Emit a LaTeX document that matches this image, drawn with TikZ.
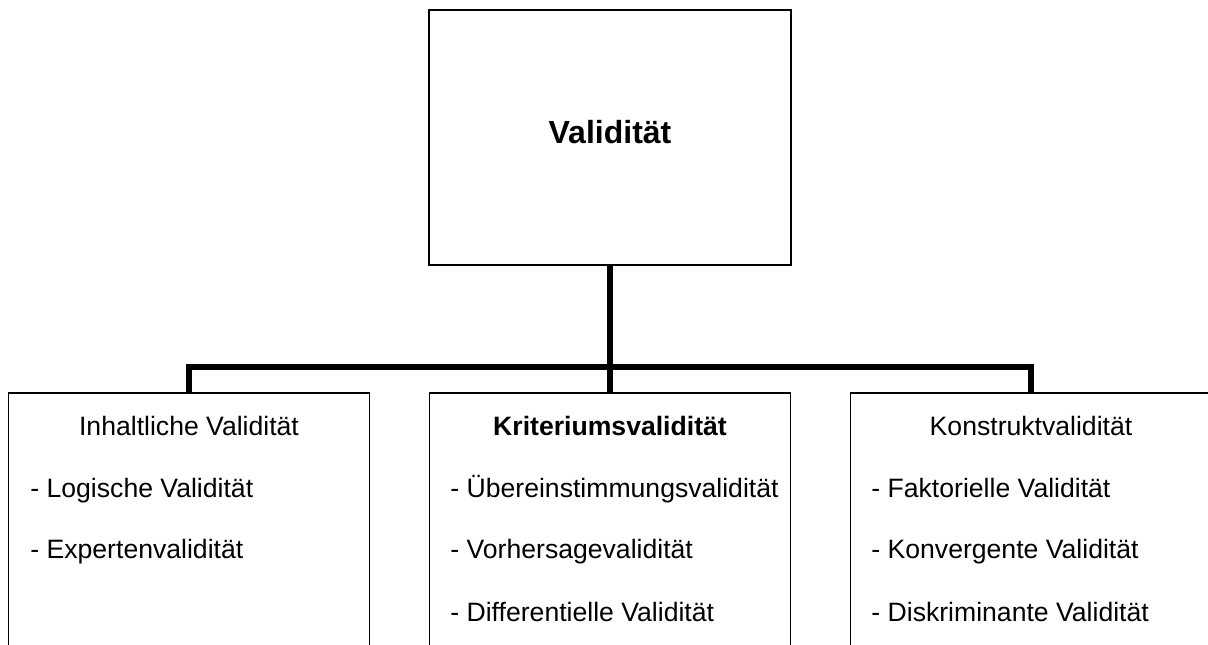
\documentclass[tikz,border=0pt]{standalone}
\usepackage{fontspec}
\setmainfont{Liberation Sans}
\usepackage{tikz}
\usetikzlibrary{positioning}
\tikzstyle{box} = [rectangle, draw=black, line width=0.6pt, inner sep=0pt]
\tikzstyle{topbox} = [box, minimum width=181pt, minimum height=127.5pt]
\tikzstyle{subbox} = [box, minimum width=180.5pt, minimum height=153.5pt]
\tikzstyle{txt} = [inner sep=0pt, anchor=base, font=\fontsize{13.3}{15}\selectfont]
\tikzstyle{item} = [txt, anchor=base west]
\tikzstyle{conn} = [-, line width=3pt, draw=black]

\begin{document}
\begin{tikzpicture}[x=0.5pt, y=-0.5pt]
\useasboundingbox (0, 0) rectangle (1208, 644);
\clip (0, 0) rectangle (1208, 644);
% boxes
\node [topbox] (V) at (610, 137.5) {};
\node [subbox] (I) at (189, 546.5) {};
\node [subbox] (K) at (610, 546.5) {};
\node [subbox] (R) at (1031, 546.5) {};
% title
\node [txt, font=\fontsize{16}{19}\selectfont\bfseries] (Vt) at (610, 143) {Validität};
% left box
\node [txt] (It) at (189, 435) {Inhaltliche Validität};
\node [item] (I1) at (30, 497) {- Logische Validität};
\node [item] (I2) at (30, 558) {- Expertenvalidität};
% middle box
\node [txt, font=\fontsize{13.3}{15}\selectfont\bfseries] (Kt) at (610, 435) {Kriteriumsvalidität};
\node [item] (K1) at (450, 497) {- Übereinstimmungsvalidität};
\node [item] (K2) at (450, 558) {- Vorhersagevalidität};
\node [item] (K3) at (450, 621) {- Differentielle Validität};
% right box
\node [txt] (Rt) at (1031, 435) {Konstruktvalidität};
\node [item] (R1) at (871, 497) {- Faktorielle Validität};
\node [item] (R2) at (871, 558) {- Konvergente Validität};
\node [item] (R3) at (871, 621) {- Diskriminante Validität};
% connectors
\draw [conn] (V.south) -- (K.north);
\draw [conn] (I.north) -- ++(0, -25) -| (R.north);
\end{tikzpicture}
\end{document}
